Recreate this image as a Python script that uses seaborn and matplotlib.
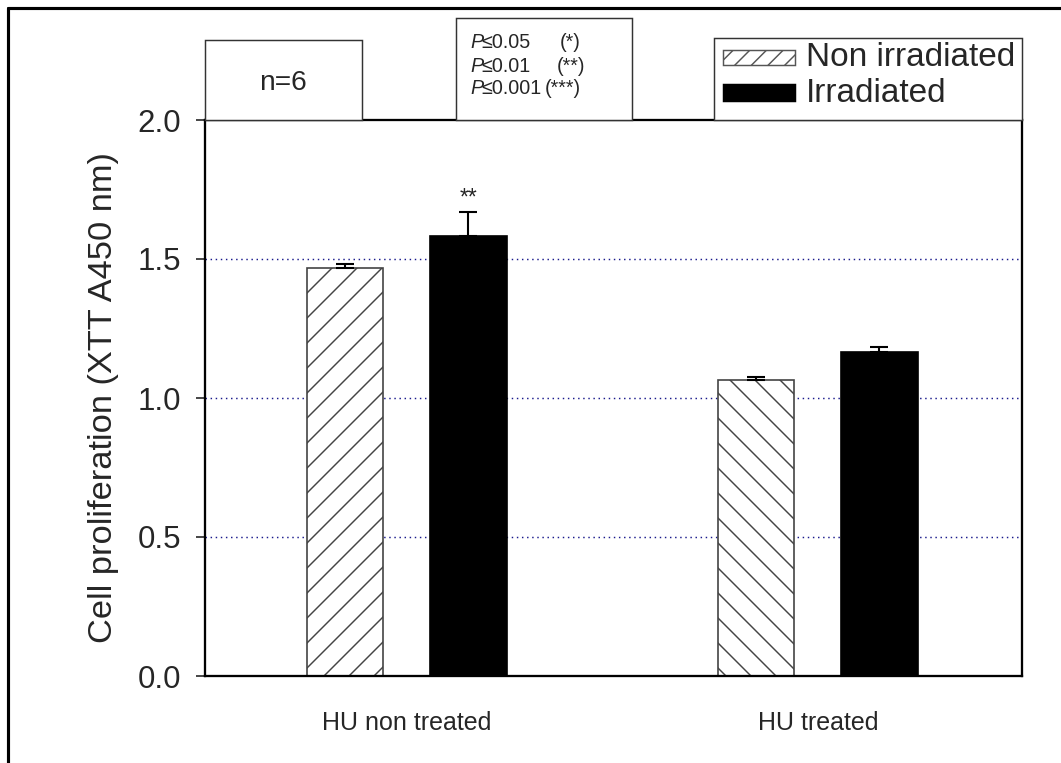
import matplotlib
matplotlib.use("Agg")
import matplotlib.pyplot as plt
import seaborn as sns
import pandas as pd
from matplotlib.patches import Rectangle
from matplotlib.lines import Line2D

# ---- data ----
categories = ["HU non treated", "HU treated"]
conditions = ["Non irradiated", "Irradiated"]
non_irr_vals = [1.467, 1.065]
irr_vals = [1.584, 1.165]
non_irr_err = [0.014, 0.011]
irr_err = [0.085, 0.020]
yticks = [0.0, 0.5, 1.0, 1.5, 2.0]
grid_levels = [0.5, 1.0, 1.5]
sig_labels = ["**", ""]
p_labels = ["P", "P", "P"]
p_thresholds = ["\u22640.05", "\u22640.01", "\u22640.001"]
p_stars = ["(*)", "(**)", "(***)"]

df = pd.DataFrame({
    "group": categories * 2,
    "condition": [conditions[0]] * 2 + [conditions[1]] * 2,
    "value": non_irr_vals + irr_vals,
})

sns.set_theme(style="white")
plt.rcParams["font.family"] = ["Liberation Sans", "DejaVu Sans"]
plt.rcParams["hatch.linewidth"] = 0.7

W, H, DPI = 1061, 763, 150
fig = plt.figure(figsize=(W / DPI, H / DPI), dpi=DPI)
fig.patch.set_facecolor("white")

def fx(px):
    return px / W

def fy(py):
    return 1 - py / H

ax = fig.add_axes([fx(205), fy(676), fx(1022) - fx(205), fy(120) - fy(676)])

for g in grid_levels:
    ax.axhline(g, color="#1a1a8c", linestyle=(0, (1, 2.5)), linewidth=0.7, zorder=0)

sns.barplot(data=df, x="group", y="value", hue="condition", order=categories,
            hue_order=conditions, palette={"Non irradiated": "white", "Irradiated": "black"},
            saturation=1, width=0.6, gap=0.38, errorbar=None, edgecolor="#444444",
            linewidth=0.8, legend=False, ax=ax, zorder=2)

hatches = ["//", "\\\\"]
cont_non, cont_irr = ax.containers[0], ax.containers[1]
for i, bar in enumerate(cont_non):
    bar.set_hatch(hatches[i])
    bar.set_edgecolor("#444444")
for bar in cont_irr:
    bar.set_edgecolor("black")

for cont, vals, errs in [(cont_non, non_irr_vals, non_irr_err), (cont_irr, irr_vals, irr_err)]:
    xs = [b.get_x() + b.get_width() / 2 for b in cont]
    ax.errorbar(xs, vals, yerr=[[0] * len(errs), errs], fmt="none", ecolor="black",
                elinewidth=1.0, capsize=4.2, capthick=1.0, zorder=3)

xs_irr = [b.get_x() + b.get_width() / 2 for b in cont_irr]
for x, v, e, s in zip(xs_irr, irr_vals, irr_err, sig_labels):
    if s:
        ax.text(x, v + e + 0.008, s, ha="center", va="bottom", fontsize=11)

ax.set_xlim(-0.491, 1.497)
ax.set_ylim(0, 2.0)
ax.set_yticks(yticks)
ax.set_yticklabels([f"{t:.1f}" for t in yticks], fontsize=15)
ax.tick_params(axis="y", direction="out", length=4.3, width=0.8, pad=7.0, left=True)
ax.tick_params(axis="x", length=0, pad=17, labelsize=12)
ax.set_xlabel("")
ax.set_ylabel("Cell proliferation (XTT A450 nm)", fontsize=16.5, labelpad=9)
for sp in ax.spines.values():
    sp.set_visible(True)
    sp.set_color("black")
    sp.set_linewidth(1.1)

# ---- boxes above the axes ----
def fig_rect(x0, y0, x1, y1, **kw):
    r = Rectangle((fx(x0), fy(y1)), fx(x1) - fx(x0), fy(y0) - fy(y1),
                  transform=fig.transFigure, **kw)
    fig.patches.append(r)
    return r

fig_rect(205, 40, 362, 120, facecolor="white", edgecolor="#333333", linewidth=0.7)
fig.text(fx(283), fy(83), "n=6", ha="center", va="center", fontsize=13.5)

fig_rect(456, 18, 632, 120, facecolor="white", edgecolor="#333333", linewidth=0.7)
p_rows = [43, 66, 88]
p_star_x = [560, 557, 545]
for yy, pl, th, st, sx in zip(p_rows, p_labels, p_thresholds, p_stars, p_star_x):
    fig.text(fx(470), fy(yy), pl, ha="left", va="center", fontsize=9.5, style="italic")
    fig.text(fx(481), fy(yy), th, ha="left", va="center", fontsize=9.5,
             family=["Liberation Sans", "DejaVu Sans"])
    fig.text(fx(sx), fy(yy), st, ha="left", va="center", fontsize=9.5)

fig_rect(714, 38, 1022, 120, facecolor="white", edgecolor="#333333", linewidth=0.7)
fig_rect(723, 50, 795, 65, facecolor="white", edgecolor="#555555", linewidth=0.7, hatch="///")
fig_rect(723, 84, 795, 101, facecolor="black", edgecolor="black", linewidth=0.7)
fig.text(fx(806), fy(57), conditions[0], ha="left", va="center", fontsize=16)
fig.text(fx(806), fy(93), conditions[1], ha="left", va="center", fontsize=16)

# ---- outer frame (left & top visible) ----
fig.lines.append(Line2D([fx(8), fx(8)], [fy(8), 0], transform=fig.transFigure,
                        color="black", linewidth=1.5))
fig.lines.append(Line2D([fx(8), 1], [fy(8), fy(8)], transform=fig.transFigure,
                        color="black", linewidth=1.5))

fig.savefig("out.png", dpi=DPI, facecolor="white")
